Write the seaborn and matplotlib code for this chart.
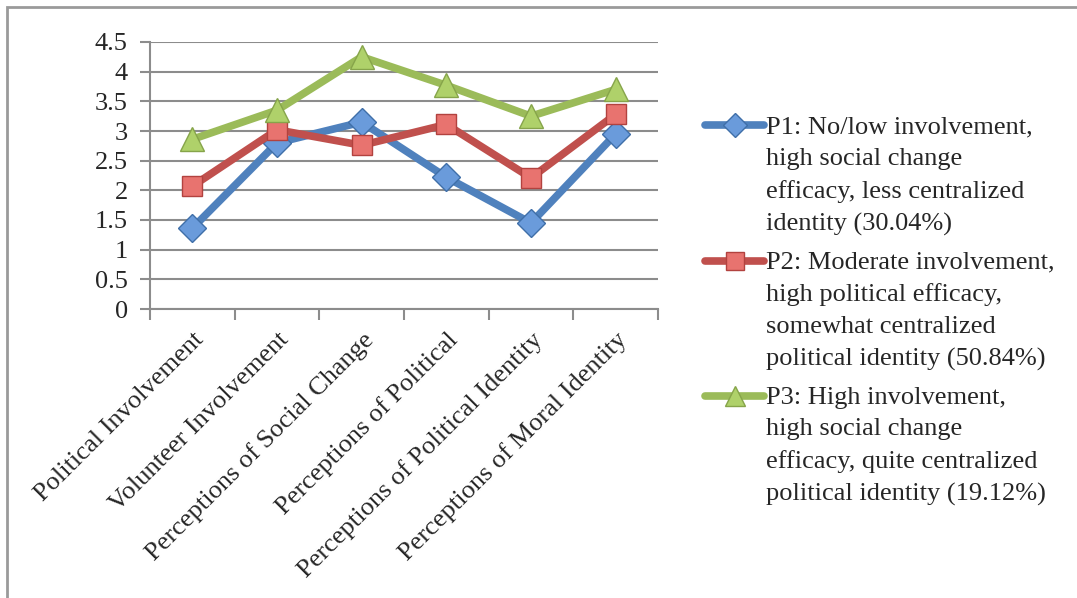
import matplotlib
matplotlib.use("Agg")
import matplotlib.pyplot as plt
from matplotlib.patches import Rectangle
import seaborn as sns
import pandas as pd

categories = [
    "Political Involvement",
    "Volunteer Involvement",
    "Perceptions of Social Change",
    "Perceptions of Political",
    "Perceptions of Political Identity",
    "Perceptions of Moral Identity",
]
p1_values = [1.36, 2.80, 3.15, 2.22, 1.45, 2.95]
p2_values = [2.07, 3.02, 2.76, 3.11, 2.21, 3.28]
p3_values = [2.86, 3.35, 4.25, 3.77, 3.25, 3.70]
series_labels = [
    "P1: No/low involvement,\nhigh social change\nefficacy, less centralized\nidentity (30.04%)",
    "P2: Moderate involvement,\nhigh political efficacy,\nsomewhat centralized\npolitical identity (50.84%)",
    "P3: High involvement,\nhigh social change\nefficacy, quite centralized\npolitical identity (19.12%)",
]
y_ticks = [0, 0.5, 1, 1.5, 2, 2.5, 3, 3.5, 4, 4.5]
y_tick_labels = ["0", "0.5", "1", "1.5", "2", "2.5", "3", "3.5", "4", "4.5"]

line_colors = ["#4F81BD", "#C0504D", "#9BBB59"]
face_colors = ["#6A9BDB", "#E8736F", "#AFD16A"]
edge_colors = ["#3F6FA8", "#B2423F", "#86A44A"]
marker_shapes = ["D", "s", "^"]
marker_sizes = [14, 15, 17]

sns.set_theme(style="white")
plt.rcParams["font.family"] = ["Liberation Serif", "DejaVu Serif"]

rows = []
for label, vals in zip(series_labels, [p1_values, p2_values, p3_values]):
    for cat, v in zip(categories, vals):
        rows.append({"category": cat, "score": v, "profile": label})
df = pd.DataFrame(rows)

fig = plt.figure(figsize=(10.77, 5.98), dpi=100)
ax = fig.add_axes([150 / 1077, 1 - 309 / 598, (658 - 150) / 1077, (309 - 42) / 598])

sns.lineplot(
    data=df, x="category", y="score", hue="profile", style="profile",
    hue_order=series_labels, style_order=series_labels,
    palette=line_colors, markers=marker_shapes, dashes=False,
    linewidth=5.5, sort=False, ax=ax, legend=False,
)

series_lines = [ln for ln in ax.lines if len(ln.get_xdata()) == len(categories)]
for ln, fc, ec, ms in zip(series_lines, face_colors, edge_colors, marker_sizes):
    ln.set_markerfacecolor(fc)
    ln.set_markeredgecolor(ec)
    ln.set_markeredgewidth(1.0)
    ln.set_markersize(ms)
    ln.set_solid_capstyle("round")
    ln.set_solid_joinstyle("round")

ax.set_xlim(-0.5, len(categories) - 0.5)
ax.set_ylim(0, 4.5)
ax.set_yticks(y_ticks)
ax.set_yticklabels(y_tick_labels, fontsize=19)
ax.yaxis.grid(True, color="#8C8C8C", linewidth=1.5)
ax.xaxis.grid(False)

ax.set_xticks(range(len(categories)))
ax.set_xticklabels(categories, rotation=45, ha="right", rotation_mode="anchor", fontsize=19)
ax.set_xticks([i - 0.5 for i in range(len(categories) + 1)], minor=True)
ax.tick_params(axis="x", which="major", length=0, pad=14)
ax.tick_params(axis="x", which="minor", length=8, width=1.5, color="#8C8C8C", direction="out", bottom=True)
ax.tick_params(axis="y", length=7, width=1.5, color="#8C8C8C", direction="out", left=True, pad=9)
ax.set_xlabel("")
ax.set_ylabel("")

for side in ["top", "right"]:
    ax.spines[side].set_visible(False)
for side in ["left", "bottom"]:
    ax.spines[side].set_color("#8C8C8C")
    ax.spines[side].set_linewidth(1.5)

leg = ax.legend(
    series_lines, series_labels,
    loc="upper left", bbox_to_anchor=(705 / 1077, 1 - 116 / 598),
    bbox_transform=fig.transFigure, frameon=False, fontsize=19,
    handlelength=2.25, handletextpad=0.05, labelspacing=0.6,
    borderaxespad=0, borderpad=0,
)
for txt in leg.get_texts():
    txt.set_linespacing(1.56)
for ln, ms in zip(leg.get_lines(), marker_sizes):
    ln.set_markersize(ms * 0.85)
for column in leg._legend_handle_box.get_children():
    for entry in column.get_children():
        entry.align = "top"

fig.patches.append(Rectangle((7 / 1077, -0.1), 1.2, 1 - 7 / 598 + 0.1,
                             transform=fig.transFigure, fill=False,
                             edgecolor="#9A9A9A", linewidth=2))

fig.savefig("out.png", dpi=100, facecolor="white")
